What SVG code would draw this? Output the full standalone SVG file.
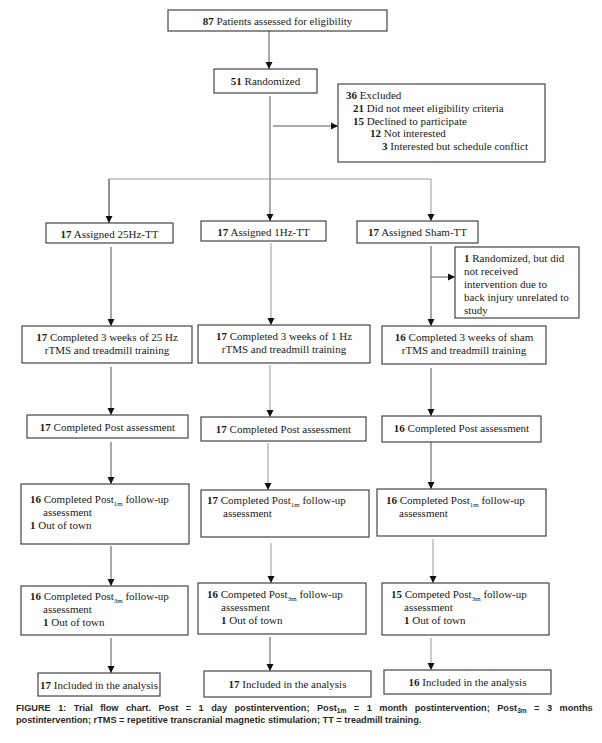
<svg xmlns="http://www.w3.org/2000/svg" width="602" height="743" viewBox="0 0 602 743">
<style>
.bx{fill:#fff;stroke:#444;stroke-width:1.2}
.t{font-family:"Liberation Serif","Times New Roman",serif;font-size:11px;fill:#1a1a1a}
.c{text-anchor:middle}
.b{font-weight:bold}
.sub{font-size:7px}
.ln{fill:none;stroke:#555;stroke-width:1}
.lg{fill:none;stroke:#999;stroke-width:1}
.cap{font-family:"Liberation Sans",Arial,sans-serif;font-size:9.2px;font-weight:bold;fill:#2a2a2a}
</style>
<defs>
<marker id="ah" markerWidth="8" markerHeight="8" refX="7" refY="4" orient="auto" markerUnits="userSpaceOnUse">
<path d="M0,0.5 L7,4 L0,7.5 z" fill="#111"/>
</marker>
</defs>
<rect width="602" height="743" fill="#fff"/>
<g id="connectors">
<line class="ln" x1="269" y1="31" x2="269" y2="69" marker-end="url(#ah)"/>
<line class="ln" x1="270" y1="96" x2="270" y2="221" marker-end="url(#ah)"/>
<line class="ln" x1="273" y1="126" x2="338" y2="126" marker-end="url(#ah)"/>
<polyline class="lg" points="109,223 109,179 431,179 431,221" marker-end="url(#ah)"/>
<line class="ln" x1="109" y1="179" x2="109" y2="223" marker-end="url(#ah)"/>
<line class="ln" x1="111" y1="247" x2="111" y2="326" marker-end="url(#ah)"/>
<line class="lg" x1="271" y1="243" x2="271" y2="325" marker-end="url(#ah)"/>
<line class="ln" x1="431" y1="246" x2="431" y2="326" marker-end="url(#ah)"/>
<line class="ln" x1="431" y1="277" x2="455" y2="277" marker-end="url(#ah)"/>
<line class="ln" x1="111" y1="367" x2="111" y2="415" marker-end="url(#ah)"/>
<line class="lg" x1="270" y1="365" x2="270" y2="417" marker-end="url(#ah)"/>
<line class="ln" x1="431" y1="368" x2="431" y2="416" marker-end="url(#ah)"/>
<line class="ln" x1="111" y1="442" x2="111" y2="484" marker-end="url(#ah)"/>
<line class="lg" x1="268" y1="443" x2="268" y2="490" marker-end="url(#ah)"/>
<line class="ln" x1="431" y1="442" x2="431" y2="489" marker-end="url(#ah)"/>
<line class="ln" x1="111" y1="546" x2="111" y2="586" marker-end="url(#ah)"/>
<line class="lg" x1="271" y1="543" x2="271" y2="583" marker-end="url(#ah)"/>
<line class="lg" x1="433" y1="539" x2="433" y2="583" marker-end="url(#ah)"/>
<line class="ln" x1="111" y1="638" x2="111" y2="673" marker-end="url(#ah)"/>
<line class="ln" x1="270" y1="637" x2="270" y2="671" marker-end="url(#ah)"/>
<line class="lg" x1="431" y1="638" x2="431" y2="670" marker-end="url(#ah)"/>
</g>
<g id="n_assessed"><rect class="bx" x="168" y="10" width="219" height="21"/>
<text class="t c" x="277.5" y="24.5"><tspan class="b">87</tspan> Patients assessed for eligibility</text></g>
<g id="n_randomized"><rect class="bx" x="214" y="69" width="103" height="24"/>
<text class="t c" x="265.5" y="85"><tspan class="b">51</tspan> Randomized</text></g>
<g id="n_excluded"><rect class="bx" x="338" y="84" width="207" height="78"/>
<text class="t" x="346" y="99"><tspan class="b">36</tspan> Excluded</text>
<text class="t" x="353" y="112"><tspan class="b">21</tspan> Did not meet eligibility criteria</text>
<text class="t" x="353" y="124.5"><tspan class="b">15</tspan> Declined to participate</text>
<text class="t" x="370" y="137"><tspan class="b">12</tspan> Not interested</text>
<text class="t" x="382" y="150"><tspan class="b">3</tspan> Interested but schedule conflict</text></g>
<g id="n_assigned25"><rect class="bx" x="46" y="223" width="127" height="20"/>
<text class="t c" x="109.5" y="237.5"><tspan class="b">17</tspan> Assigned 25Hz-TT</text></g>
<g id="n_assigned1"><rect class="bx" x="201" y="221" width="125" height="20"/>
<text class="t c" x="263.5" y="235.5"><tspan class="b">17</tspan> Assigned 1Hz-TT</text></g>
<g id="n_assignedsham"><rect class="bx" x="357" y="221" width="121" height="22"/>
<text class="t c" x="417.5" y="236"><tspan class="b">17</tspan> Assigned Sham-TT</text></g>
<g id="n_notreceived"><rect class="bx" x="455" y="247" width="124" height="71"/>
<text class="t" x="464" y="261.5"><tspan class="b">1</tspan> Randomized, but did</text>
<text class="t" x="464" y="274.5">not received</text>
<text class="t" x="464" y="287.5">intervention due to</text>
<text class="t" x="464" y="300.5">back injury unrelated to</text>
<text class="t" x="464" y="313.5">study</text></g>
<g id="n_completed25"><rect class="bx" x="22" y="326" width="170" height="37"/>
<text class="t c" x="107" y="341"><tspan class="b">17</tspan> Completed 3 weeks of 25 Hz</text>
<text class="t c" x="107" y="354">rTMS and treadmill training</text></g>
<g id="n_completed1"><rect class="bx" x="198" y="325" width="172" height="38"/>
<text class="t c" x="284" y="339.5"><tspan class="b">17</tspan> Completed 3 weeks of 1 Hz</text>
<text class="t c" x="284" y="352.5">rTMS and treadmill training</text></g>
<g id="n_completedsham"><rect class="bx" x="382" y="326" width="164" height="38"/>
<text class="t c" x="464" y="341"><tspan class="b">16</tspan> Completed 3 weeks of sham</text>
<text class="t c" x="464" y="354">rTMS and treadmill training</text></g>
<g id="n_post25"><rect class="bx" x="27" y="415" width="161" height="23"/>
<text class="t c" x="107.5" y="430.5"><tspan class="b">17</tspan> Completed Post assessment</text></g>
<g id="n_post1"><rect class="bx" x="201" y="417" width="165" height="24"/>
<text class="t c" x="283.5" y="433"><tspan class="b">17</tspan> Completed Post assessment</text></g>
<g id="n_postsham"><rect class="bx" x="382" y="416" width="159" height="26"/>
<text class="t c" x="461.5" y="432"><tspan class="b">16</tspan> Completed Post assessment</text></g>
<g id="n_post1m25"><rect class="bx" x="21" y="484" width="168" height="60"/>
<text class="t" x="30" y="503"><tspan class="b">16</tspan> Completed Post<tspan class="sub" dy="3">1m</tspan><tspan dy="-3"> follow-up</tspan></text>
<text class="t" x="43" y="516">assessment</text>
<text class="t" x="30" y="529"><tspan class="b">1</tspan> Out of town</text></g>
<g id="n_post1m1"><rect class="bx" x="201" y="490" width="168" height="47"/>
<text class="t" x="207" y="503.5"><tspan class="b">17</tspan> Completed Post<tspan class="sub" dy="3">1m</tspan><tspan dy="-3"> follow-up</tspan></text>
<text class="t" x="223" y="517">assessment</text></g>
<g id="n_post1msham"><rect class="bx" x="377" y="489" width="169" height="47"/>
<text class="t" x="386" y="504"><tspan class="b">16</tspan> Completed Post<tspan class="sub" dy="3">1m</tspan><tspan dy="-3"> follow-up</tspan></text>
<text class="t" x="399" y="517">assessment</text></g>
<g id="n_post3m25"><rect class="bx" x="21" y="586" width="167" height="49"/>
<text class="t" x="30" y="600"><tspan class="b">16</tspan> Completed Post<tspan class="sub" dy="3">3m</tspan><tspan dy="-3"> follow-up</tspan></text>
<text class="t" x="43" y="613">assessment</text>
<text class="t" x="43" y="626"><tspan class="b">1</tspan> Out of town</text></g>
<g id="n_post3m1"><rect class="bx" x="198" y="583" width="168" height="51"/>
<text class="t" x="207" y="598"><tspan class="b">16</tspan> Competed Post<tspan class="sub" dy="3">3m</tspan><tspan dy="-3"> follow-up</tspan></text>
<text class="t" x="221" y="611">assessment</text>
<text class="t" x="221" y="624"><tspan class="b">1</tspan> Out of town</text></g>
<g id="n_post3msham"><rect class="bx" x="382" y="583" width="167" height="52"/>
<text class="t" x="391" y="597.5"><tspan class="b">15</tspan> Competed Post<tspan class="sub" dy="3">3m</tspan><tspan dy="-3"> follow-up</tspan></text>
<text class="t" x="404" y="611">assessment</text>
<text class="t" x="404" y="623.5"><tspan class="b">1</tspan> Out of town</text></g>
<g id="n_incl25"><rect class="bx" x="38" y="673" width="122" height="23"/>
<text class="t c" x="99" y="688.5"><tspan class="b">17</tspan> Included in the analysis</text></g>
<g id="n_incl1"><rect class="bx" x="204" y="671" width="167" height="26"/>
<text class="t c" x="287.5" y="688"><tspan class="b">17</tspan> Included in the analysis</text></g>
<g id="n_inclsham"><rect class="bx" x="384" y="670" width="167" height="24"/>
<text class="t c" x="467.5" y="686"><tspan class="b">16</tspan> Included in the analysis</text></g>
<g id="caption">
<text class="cap" x="16" y="711" word-spacing="4.9">FIGURE 1: Trial flow chart. Post = 1 day postintervention; Post<tspan font-size="6.6" dy="2">1m</tspan><tspan dy="-2"> = 1 month postintervention; Post</tspan><tspan font-size="6.6" dy="2">3m</tspan><tspan dy="-2"> = 3 months</tspan></text>
<text class="cap" x="16" y="723">postintervention; rTMS = repetitive transcranial magnetic stimulation; TT = treadmill training.</text>
</g>
</svg>
